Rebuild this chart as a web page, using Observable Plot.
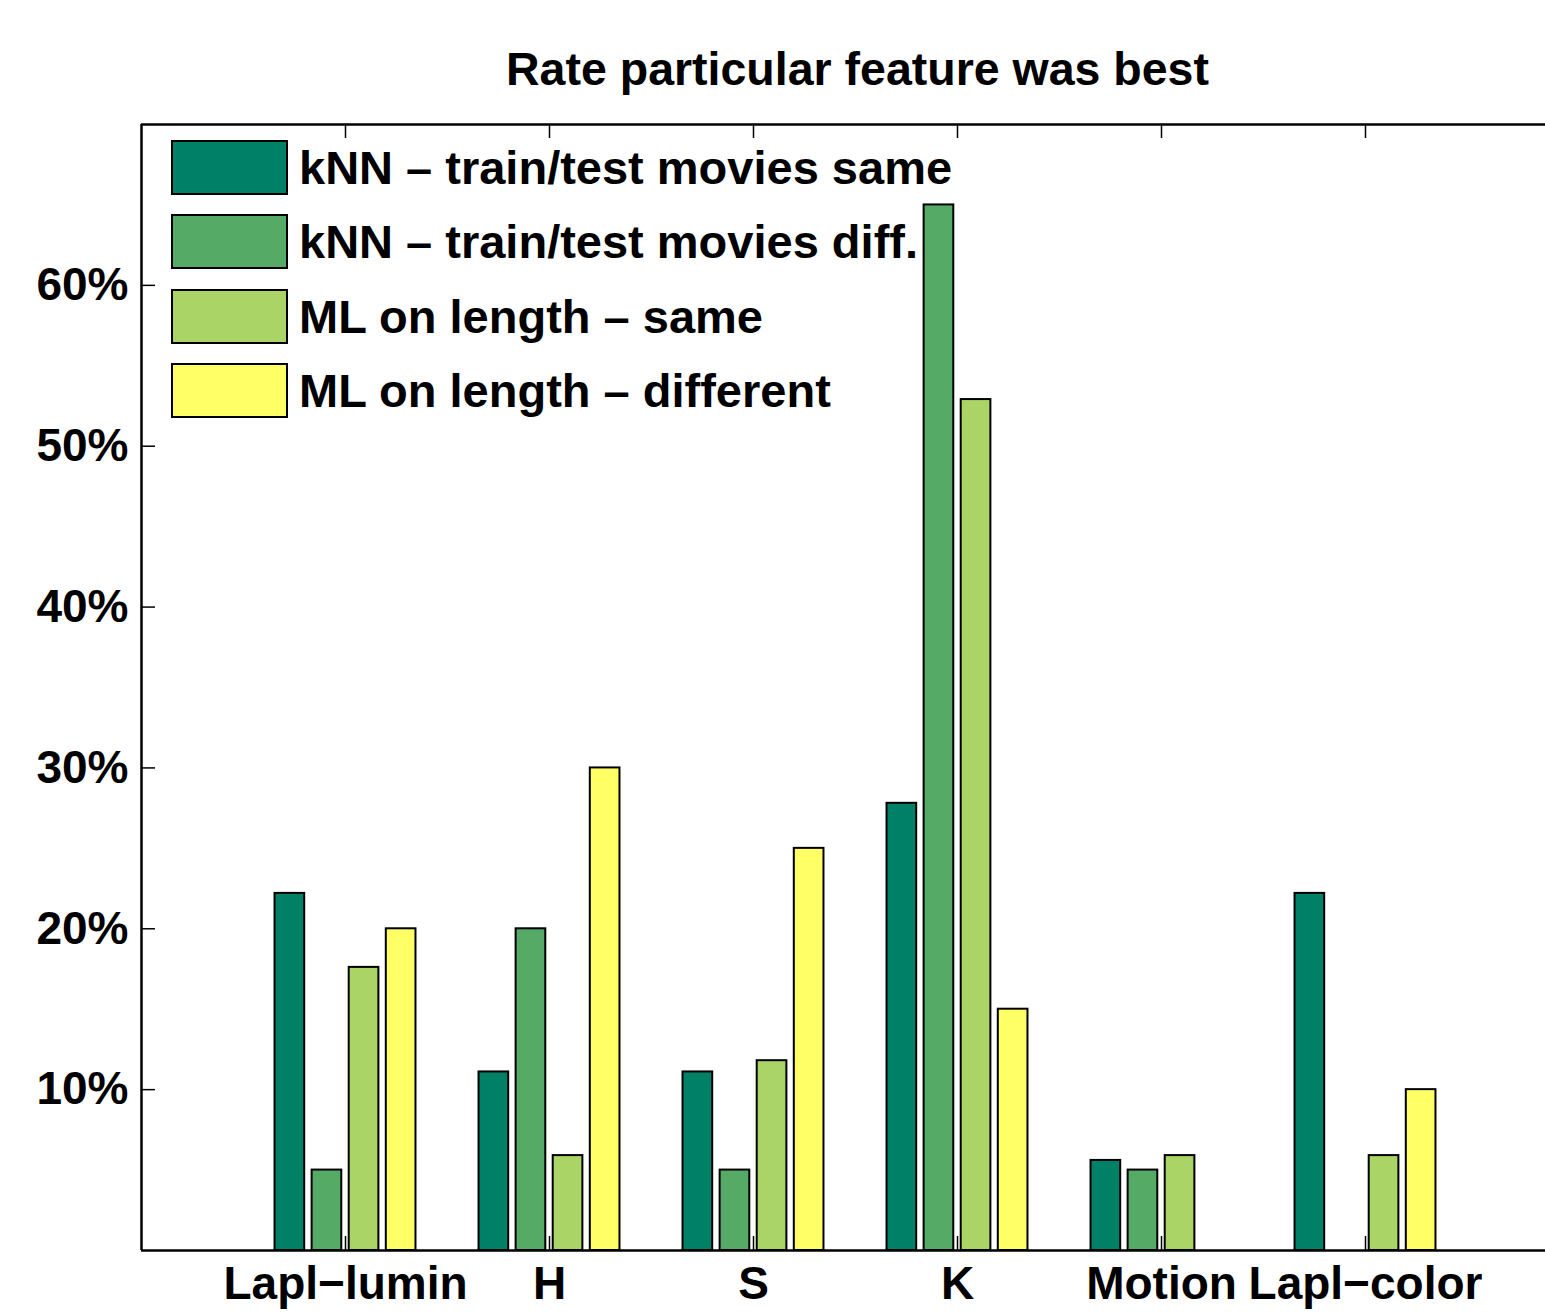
<!DOCTYPE html>
<html>
<head>
<meta charset="utf-8">
<script src="https://cdn.jsdelivr.net/npm/d3@7"></script>
<script src="https://cdn.jsdelivr.net/npm/@observablehq/plot@0.6"></script>
<style>
  html, body { margin: 0; padding: 0; background: #fff; overflow: hidden; }
  #wrap { position: relative; width: 1545px; height: 1312px; }
  #title {
    box-sizing: border-box; width: 1545px; height: 110px;
    padding-top: 46px; padding-left: 170px; text-align: center;
    font: bold 46.5px "Liberation Sans", Arial, sans-serif; line-height: 46px; color: #000;
  }
  #legend { position: absolute; left: 171px; top: 140px; font: bold 47px "Liberation Sans", Arial, sans-serif; color: #000; }
  .row { display: flex; align-items: center; height: 55px; margin-bottom: 19.3px; }
  .sw { box-sizing: border-box; width: 117px; height: 55px; border: 2px solid #000; }
  .lab { margin-left: 11px; line-height: 55px; white-space: nowrap; }
</style>
</head>
<body>
<div id="wrap">
  <div id="title">Rate particular feature was best</div>
  <div id="chart"></div>
  <div id="legend"></div>
</div>
<script>
// ---- data ----
const categories = ["Lapl−lumin", "H", "S", "K", "Motion", "Lapl−color"];
const seriesNames = [
  "kNN – train/test movies same",
  "kNN – train/test movies diff.",
  "ML on length – same",
  "ML on length – different"
];
const seriesColors = ["#008066", "#55AA66", "#AAD466", "#FFFF66"];
const knnSame = [22.2, 11.1, 11.1, 27.8, 5.6, 22.2];
const knnDiff = [5, 20, 5, 65, 5, 0];
const mlSame  = [17.6, 5.9, 11.8, 52.9, 5.9, 5.9];
const mlDiff  = [20, 30, 25, 15, 0, 10];
const yTicks = [10, 20, 30, 40, 50, 60];
const yMax = 70;

// ---- build table ----
const seriesValues = [knnSame, knnDiff, mlSame, mlDiff];
const nSeries = seriesValues.length;
const groupWidth = Math.min(0.8, nSeries / (nSeries + 1.5)); // MATLAB grouped bar rule
const step = groupWidth / nSeries;
const barW = 0.8 * step;
const rows = [];
categories.forEach((c, i) => {
  seriesValues.forEach((vals, j) => {
    const center = (i + 1) + (j - (nSeries - 1) / 2) * step;
    rows.push({category: c, series: seriesNames[j], value: vals[i], x1: center - barW / 2, x2: center + barW / 2});
  });
});
const catPos = categories.map((c, i) => i + 1);

// ---- layout ----
const W = 1545, H = 1202;
const mL = 141, mT = 14, mB = 62, mR = 0;
const xRange = [mL, mL + 7 * 204];
const tick = 14;
const innerH = H - mT - mB;
const innerW = W - mL - mR;
const font = "Liberation Sans, Arial, sans-serif";

const chart = Plot.plot({
  width: W, height: H,
  marginLeft: mL, marginRight: mR, marginTop: mT, marginBottom: mB,
  style: {fontFamily: font, fontSize: "46px", fontWeight: "bold", color: "#000", background: "#fff"},
  x: {type: "linear", domain: [0, 7], range: xRange},
  y: {domain: [0, yMax]},
  color: {domain: seriesNames, range: seriesColors},
  marks: [
    Plot.rectY(rows.filter(d => d.value > 0), {x1: "x1", x2: "x2", y1: 0, y2: "value", fill: "series", stroke: "#000", strokeWidth: 2}),
    Plot.tickY(yTicks, {y: d => d, insetRight: innerW - tick, stroke: "#000", strokeWidth: 1.5}),
    Plot.tickX(catPos, {x: d => d, insetTop: innerH - tick, stroke: "#000", strokeWidth: 1.5}),
    Plot.tickX(catPos, {x: d => d, insetBottom: innerH - tick, stroke: "#000", strokeWidth: 1.5}),
    Plot.ruleY([0], {stroke: "#000", strokeWidth: 2.5}),
    Plot.ruleY([yMax], {stroke: "#000", strokeWidth: 2.5}),
    Plot.ruleX([0], {stroke: "#000", strokeWidth: 2.5}),
    Plot.axisY({ticks: yTicks, tickFormat: d => `${d}%`, tickSize: 0, tickPadding: 13, label: null, fontSize: 46, fontWeight: "bold", fontFamily: font}),
    Plot.axisX({ticks: catPos, tickFormat: d => categories[d - 1], tickSize: 0, tickPadding: 16, label: null, fontSize: 46, fontWeight: "bold", fontFamily: font})
  ]
});
document.getElementById("chart").appendChild(chart);

// ---- legend ----
const legend = document.getElementById("legend");
seriesNames.forEach((name, j) => {
  const row = document.createElement("div");
  row.className = "row";
  const sw = document.createElement("div");
  sw.className = "sw";
  sw.style.background = seriesColors[j];
  const lab = document.createElement("div");
  lab.className = "lab";
  lab.textContent = name;
  row.appendChild(sw);
  row.appendChild(lab);
  legend.appendChild(row);
});
</script>
</body>
</html>
